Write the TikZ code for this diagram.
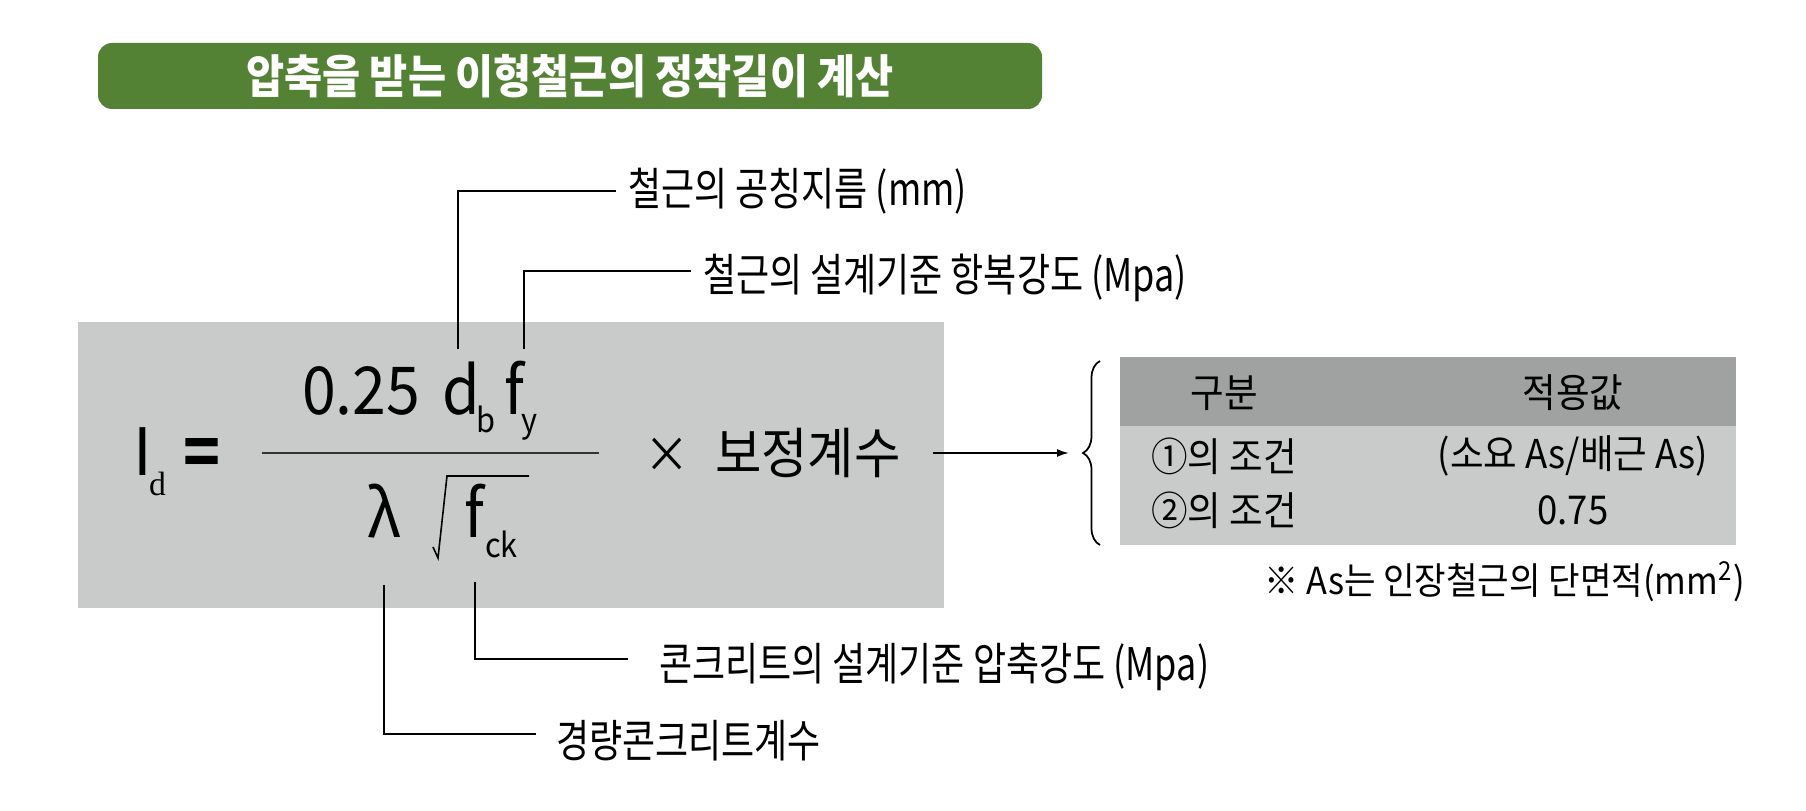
\documentclass[tikz,border=0pt]{standalone}
\usepackage{fontspec}
\usepackage{tikz}
\usetikzlibrary{arrows.meta,positioning,decorations.pathreplacing}
\setmainfont{Noto Sans CJK KR}[FakeStretch=0.8]
\newfontfamily\eqfont{Noto Sans CJK KR}[FakeStretch=0.92]
\newfontfamily\titlefont{Noto Sans CJK KR}[FakeStretch=0.9]
\newfontfamily\serifd{Liberation Serif}
\newfontfamily\barfont{Liberation Sans}
\definecolor{bargreen}{RGB}{84,130,53}
\definecolor{boxgray}{RGB}{201,202,202}
\definecolor{headgray}{RGB}{160,161,161}

\begin{document}
\begin{tikzpicture}[every node/.style={inner sep=0pt,outer sep=0pt},
  sym/.style={anchor=base west,font=\eqfont\fontsize{18.8}{20}\selectfont},
  sub/.style={anchor=base west,font=\eqfont\fontsize{9.5}{10}\selectfont},
  lbl/.style={anchor=west,font=\fontsize{12.8}{14}\selectfont},
  cell/.style={font=\eqfont\fontsize{11.3}{12}\selectfont},
  lead/.style={line width=.5pt}]
\useasboundingbox (0,0) rectangle (18.06,8.11);
\node[fill=bargreen,rounded corners=.14cm,minimum width=9.44cm,minimum height=.66cm,text=white,font=\titlefont\bfseries\fontsize{13.1}{15}\selectfont] (title) at (5.70,7.35) {압축을 받는 이형철근의 정착길이 계산\hspace{.23cm}};
\node[fill=boxgray,minimum width=8.66cm,minimum height=2.86cm] (eqbox) at (5.11,3.46) {};
\node[anchor=base west,font=\barfont\fontsize{18.8}{20}\selectfont] (ell) at (1.35,3.35) {l};
\node[anchor=base west,font=\serifd\fontsize{9.6}{10}\selectfont] (dsub) at (1.49,3.15) {d};
\node[sym,anchor=center,font=\eqfont\bfseries\fontsize{18.8}{20}\selectfont] (eq) at (2.02,3.53) {=};
\node[sym] (num) at (3.02,3.96) {0.25};
\node[sym] (db) at (4.42,3.96) {d};
\node[sub] (bsub) at (4.76,3.78) {b};
\node[sym] (fy) at (5.04,3.96) {f};
\node[sub] (ysub) at (5.21,3.78) {y};
\draw[line width=.45pt,black!80] (2.62,3.58) -- (5.99,3.58);
\node[sym] (lam) at (3.67,2.73) {λ};
\draw[line width=.45pt] (4.33,2.64) -- (4.38,2.53) -- (4.47,3.35) -- (5.29,3.35);
\node[sym] (fck) at (4.64,2.73) {f};
\node[sub] (cksub) at (4.85,2.53) {ck};
\node[font=\eqfont\fontsize{14}{16}\selectfont] (times) at (6.67,3.56) {×};
\node[anchor=west,font=\eqfont\fontsize{15.6}{17}\selectfont] (corr) at (7.15,3.58) {보정계수};
\coordinate (brbot) at (11.00,2.66);
\coordinate (brtop) at (11.00,4.50);
\coordinate (brtip) at (10.83,3.58);
\draw[lead,decorate,decoration={brace,amplitude=.17cm}] (brbot) -- (brtop);
\draw[lead,shorten <=.32cm,shorten >=.14cm,-{Latex[length=1.2mm,width=.8mm]}] (corr.east) -- (brtip);
\node[fill=headgray,minimum width=6.16cm,minimum height=.69cm,anchor=north west] (head) at (11.20,4.54) {};
\node[fill=boxgray,minimum width=6.16cm,minimum height=1.19cm,anchor=north] (body) at (head.south) {};
\node[cell] (h1) at (12.24,4.18) {구분};
\node[cell] (h2) at (15.73,4.18) {적용값};
\node[cell] (r1a) at (12.24,3.55) {①의 조건};
\node[cell] (r1b) at (15.73,3.55) {(소요 As/배근 As)};
\node[cell] (r2a) at (12.24,3.01) {②의 조건};
\node[cell] (r2b) at (15.73,3.01) {0.75};
\node[anchor=east,font=\eqfont\fontsize{10.6}{12}\selectfont] (note) at (17.45,2.29) {※ As는 인장철근의 단면적(mm\textsuperscript{2})};
\coordinate (c1) at (4.58,4.62);
\coordinate (c2) at (5.24,4.62);
\coordinate (c3) at (4.75,2.29);
\coordinate (c4) at (3.84,2.26);
\node[lbl] (t1) at (6.28,6.20) {철근의 공칭지름 (mm)};
\node[lbl] (t2) at (7.03,5.33) {철근의 설계기준 항복강도 (Mpa)};
\node[lbl] (t3) at (6.59,1.44) {콘크리트의 설계기준 압축강도 (Mpa)};
\node[lbl] (t4) at (5.56,0.70) {경량콘크리트계수};
\draw[lead,shorten >=.12cm] (c1) |- (t1.west);
\draw[lead,shorten >=.12cm] (c2) |- ([yshift=.07cm]t2.west);
\draw[lead,shorten >=.31cm] (c3) |- ([yshift=.08cm]t3.west);
\draw[lead,shorten >=.20cm] (c4) |- ([yshift=.07cm]t4.west);
\end{tikzpicture}
\end{document}
